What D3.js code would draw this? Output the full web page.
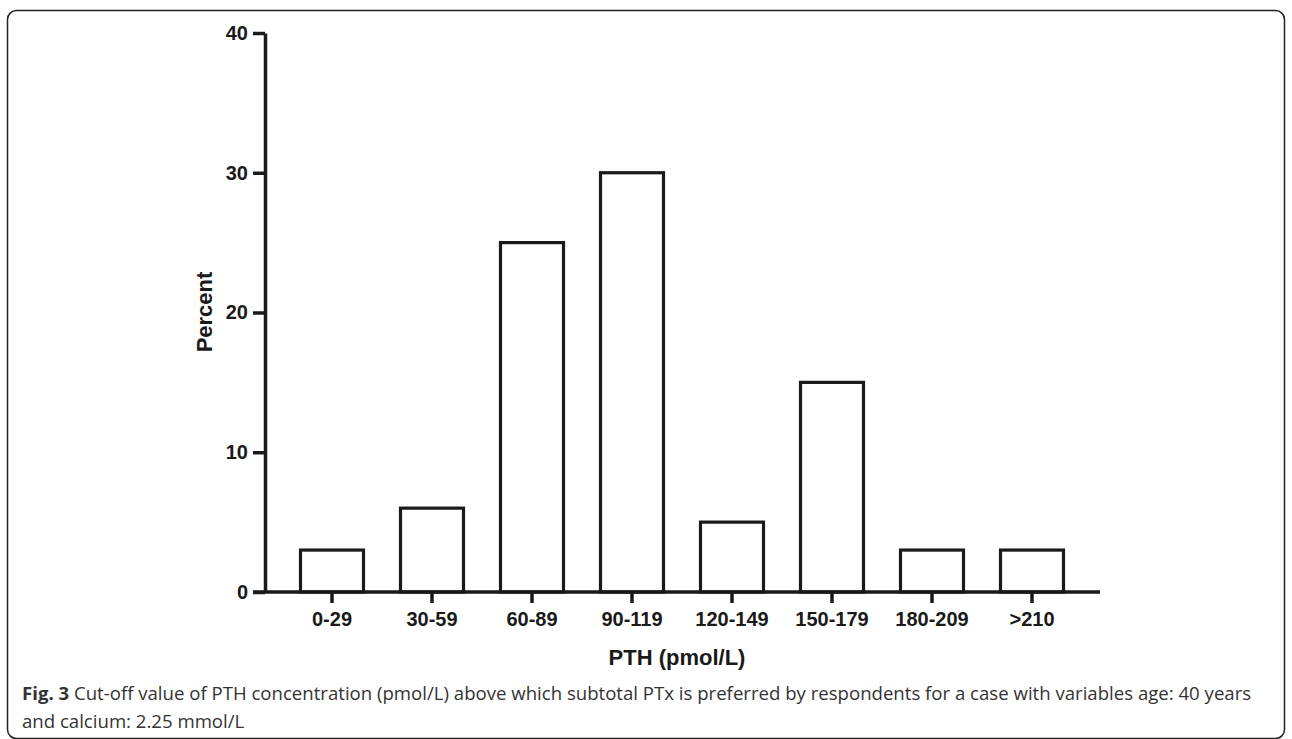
<!DOCTYPE html>
<html>
<head>
<meta charset="utf-8">
<script src="https://cdn.jsdelivr.net/npm/d3@7"></script>
<style>
  body { margin: 0; background: #fff; }
  svg text { font-family: "Liberation Sans", Arial, sans-serif; }
</style>
</head>
<body>
<svg width="1292" height="739"></svg>
<script>
// data
var categories = ['0-29', '30-59', '60-89', '90-119', '120-149', '150-179', '180-209', '>210']
var percent = [3, 6, 25, 30, 5, 15, 3, 3]
var yTicks = [0, 10, 20, 30, 40]

var ink = '#1a1a1a'
var svg = d3.select('svg')

// frame around figure
svg.append('rect')
    .attr('x', 7.5).attr('y', 10.5)
    .attr('width', 1277).attr('height', 728)
    .attr('rx', 9)
    .style('fill', 'none').style('stroke', '#222').style('stroke-width', 1.5)

var yAxisX = 265, xAxisEnd = 1100
var xScale = d3.scaleBand()
    .domain(categories)
    .range([282, 1082])
    .paddingInner(0.37)
    .paddingOuter(0.185)

var yScale = d3.scaleLinear()
    .domain([0, 40])
    .range([592, 33])

// bars
svg.selectAll('rect.bar')
    .data(percent)
    .enter()
    .append('rect')
    .attr('class', 'bar')
    .attr('x', function(d, i) { return xScale(categories[i]) })
    .attr('y', function(d) { return yScale(d) })
    .attr('width', xScale.bandwidth())
    .attr('height', function(d) { return yScale(0) - yScale(d) })
    .style('fill', '#fff').style('stroke', ink).style('stroke-width', 3.2)

// y axis
var yAxis = svg.append('g')
    .attr('transform', 'translate(' + yAxisX + ',0)')
    .call(d3.axisLeft(yScale).tickValues(yTicks).tickSize(12).tickPadding(5).tickSizeOuter(0))
yAxis.select('.domain').style('stroke', ink).style('stroke-width', 3.5)
yAxis.selectAll('.tick line').style('stroke', ink).style('stroke-width', 3.5)
yAxis.selectAll('.tick text')
    .style('font-size', '20px').style('font-weight', 'bold').style('fill', ink)

// x axis
var xAxis = svg.append('g')
    .attr('transform', 'translate(0,' + yScale(0) + ')')
    .call(d3.axisBottom(xScale).tickSize(11).tickPadding(9).tickSizeOuter(0))
xAxis.select('.domain').remove()
xAxis.append('line')
    .attr('x1', yAxisX - 12).attr('x2', xAxisEnd)
    .style('stroke', ink).style('stroke-width', 3.5)
xAxis.selectAll('.tick line').style('stroke', ink).style('stroke-width', 3.5)
xAxis.selectAll('.tick text')
    .style('font-size', '20px').style('font-weight', 'bold').style('fill', ink)

// axis titles
svg.append('text')
    .attr('x', 677).attr('y', 665)
    .attr('text-anchor', 'middle')
    .style('font-size', '22px').style('font-weight', 'bold').style('fill', ink)
    .text('PTH (pmol/L)')

svg.append('text')
    .attr('transform', 'translate(212,312) rotate(-90)')
    .attr('text-anchor', 'middle')
    .style('font-size', '22px').style('font-weight', 'bold').style('fill', ink)
    .text('Percent')

// caption
var cap = svg.append('text')
    .attr('x', 22).attr('y', 700)
    .style('font-family', '"Open Sans", sans-serif')
    .style('font-size', '18.6px').style('fill', '#333')
cap.append('tspan').style('font-weight', 'bold').text('Fig. 3')
cap.append('tspan').text(' Cut-off value of PTH concentration (pmol/L) above which subtotal PTx is preferred by respondents for a case with variables age: 40 years')
svg.append('text')
    .attr('x', 22).attr('y', 728)
    .style('font-family', '"Open Sans", sans-serif')
    .style('font-size', '18.6px').style('fill', '#333')
    .text('and calcium: 2.25 mmol/L')
</script>
</body>
</html>
